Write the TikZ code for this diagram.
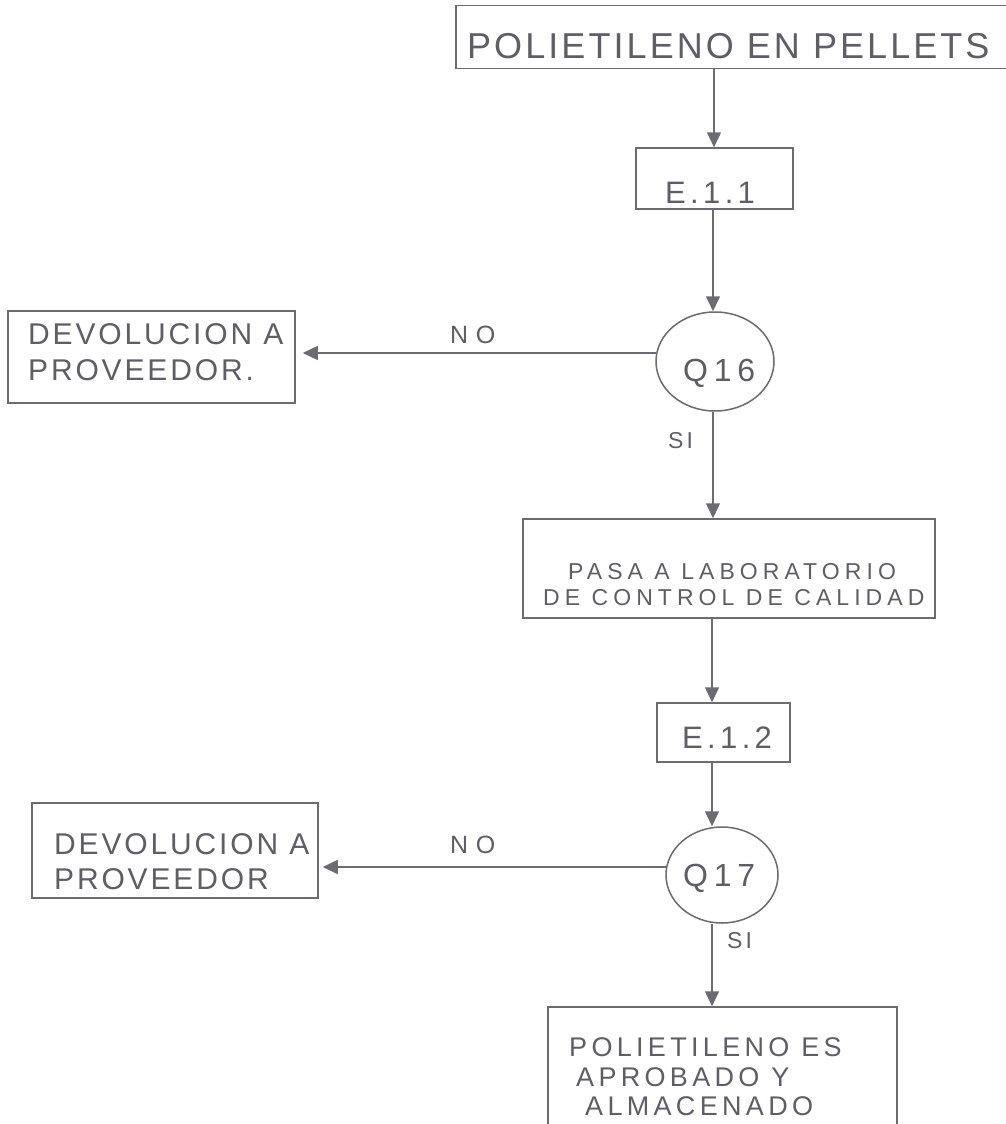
\documentclass[tikz,border=0pt]{standalone}
\usepackage{fontspec}
\setmainfont{Liberation Sans}
\usetikzlibrary{arrows.meta,shapes.geometric}
\definecolor{ink}{HTML}{6B6B72}
\definecolor{txt}{HTML}{5E5E66}
% tracked text: #1 = letter spacing (percent of font size), #2 = font size, #3 = text
\newcommand\tracked[3]{{\fontsize{#2}{#2}\selectfont\addfontfeatures{LetterSpace=#1}#3}}
\begin{document}
\begin{tikzpicture}[x=1pt,y=-1pt,
  frame/.style={draw=ink, line width=1.5pt, rectangle, inner sep=0pt},
  decision/.style={draw=ink, line width=1.5pt, ellipse, inner sep=0pt},
  lbl/.style={text=txt, inner sep=0pt, anchor=base west},
  flow/.style={draw=ink, line width=1.5pt, -{Triangle[length=15pt,width=14pt]}}]
\useasboundingbox (0,0) rectangle (1005,1124);
\fill[white] (0,0) rectangle (1005,1124);

% boxes
\node[frame, minimum width=570pt, minimum height=63pt] (top) at (741,37) {};
\node[frame, minimum width=157pt, minimum height=61pt] (e11) at (714.5,178.5) {};
\node[decision, minimum width=118pt, minimum height=99pt] (q16) at (715,361.5) {};
\node[frame, minimum width=287pt, minimum height=92pt] (dev1) at (151.5,357) {};
\node[frame, minimum width=412pt, minimum height=99pt] (lab) at (729,568.5) {};
\node[frame, minimum width=133pt, minimum height=59pt] (e12) at (723.5,732.5) {};
\node[decision, minimum width=112pt, minimum height=96pt] (q17) at (722,875) {};
\node[frame, minimum width=286pt, minimum height=95pt] (dev2) at (175,850.5) {};
\node[frame, minimum width=349pt, minimum height=140pt] (ok) at (722.5,1077) {};

% texts
\node[lbl] (top-t) at (467,59) {\tracked{8.5}{36}{POLIETILENO EN PELLETS}};
\node[lbl] (e11-t) at (665,203) {\tracked{14}{31}{E.1.1}};
\node[lbl] (q16-t) at (683,381) {\tracked{18}{32}{Q16}};
\node[lbl] (dev1-a) at (28,344) {\tracked{9.5}{30}{DEVOLUCION A}};
\node[lbl] (dev1-b) at (28,380) {\tracked{9.5}{30}{PROVEEDOR.}};
\node[lbl] (lab-a) at (568,579) {\tracked{22}{23}{PASA A LABORATORIO}};
\node[lbl] (lab-b) at (543,605) {\tracked{22}{23}{DE CONTROL DE CALIDAD}};
\node[lbl] (e12-t) at (682,748) {\tracked{14}{31}{E.1.2}};
\node[lbl] (q17-t) at (683,886) {\tracked{18}{32}{Q17}};
\node[lbl] (dev2-a) at (54,854) {\tracked{9.5}{30}{DEVOLUCION A}};
\node[lbl] (dev2-b) at (54,889) {\tracked{9.5}{30}{PROVEEDOR}};
\node[lbl] (ok-a) at (569,1056) {\tracked{16}{27}{POLIETILENO ES}};
\node[lbl] (ok-b) at (576,1086) {\tracked{16}{27}{APROBADO Y}};
\node[lbl] (ok-c) at (585,1115) {\tracked{16}{27}{ALMACENADO}};
\node[lbl] (no1) at (450,343) {\tracked{30}{25}{NO}};
\node[lbl] (no2) at (450,853) {\tracked{30}{25}{NO}};
\node[lbl] (si1) at (668,448) {\tracked{14}{23}{SI}};
\node[lbl] (si2) at (727,948) {\tracked{14}{23}{SI}};

% connectors
\coordinate (q16-w) at (656,353);
\coordinate (q17-w) at (667,867);
\draw[flow] (top.south -| 714,0) -- (e11.north -| 714,0);
\draw[flow] (e11.south -| 713,0) -- (q16.north -| 713,0);
\draw[flow, shorten >=7pt] (q16-w) -- (q16-w -| dev1.east);
\draw[flow] (q16.south -| 713,0) -- (lab.north -| 713,0);
\draw[flow] (lab.south -| 712,0) -- (e12.north -| 712,0);
\draw[flow] (e12.south -| 712,0) -- (q17.north -| 712,0);
\draw[flow, shorten >=4pt] (q17-w) -- (q17-w -| dev2.east);
\draw[flow] (q17.south -| 712,0) -- (ok.north -| 712,0);
\end{tikzpicture}
\end{document}
